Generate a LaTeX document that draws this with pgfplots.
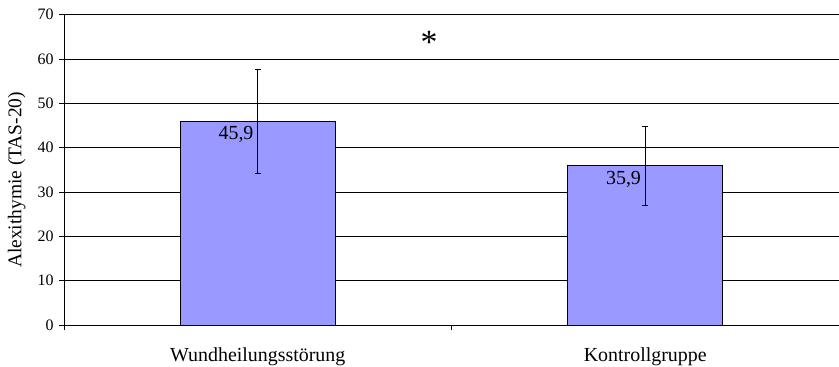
\documentclass[border=0pt]{standalone}
\usepackage{pgfplots}
\pgfplotsset{compat=1.18}
\usepackage{fontspec}
\setmainfont{Liberation Serif}
\definecolor{barfill}{HTML}{9999FF}
\begin{document}
\begin{tikzpicture}
\useasboundingbox (-64bp,-42bp) rectangle (775bp,325bp);
\begin{axis}[
  scale only axis,
  width=775bp, height=310.5bp,
  xmin=-0.5, xmax=1.5,
  ymin=0, ymax=70,
  axis x line*=bottom, axis y line*=left,
  axis line style={black, line width=0.7pt},
  ytick={0,10,...,70},
  ymajorgrids,
  grid style={black, line width=0.6pt},
  xtick={-0.5,0.5,1.5}, xticklabels={},
  tick align=outside,
  major tick length=5bp,
  tick style={black, line width=0.7pt},
  /pgf/number format/assume math mode=true,
  y tick label style={font=\fontsize{16}{18}\selectfont, xshift=-2bp},
  extra x ticks={0,1},
  extra x tick labels={Wundheilungsstörung, Kontrollgruppe},
  extra x tick style={tick style={draw=none}, grid=none,
    tick label style={font=\fontsize{20}{22}\selectfont, yshift=-14bp}},
  ylabel={Alexithymie (TAS-20)},
  ylabel style={font=\fontsize{19.5}{22}\selectfont, at={(axis description cs:-0.061,0.467)}, anchor=center},
  clip=false,
]
\addplot[ybar, bar width=0.4, fill=barfill, draw=black, line width=0.6pt,
  nodes near coords={\pgfmathprintnumber[fixed, fixed zerofill, precision=1, use comma]{\pgfplotspointmeta}},
  every node near coord/.append style={anchor=north east, inner sep=0pt, xshift=-4bp, yshift=-5bp, font=\fontsize{20}{22}\selectfont, black},
  error bars/.cd, y dir=both, y explicit,
  error bar style={black, line width=0.6pt},
  error mark options={rotate=90, mark size=3bp, black, line width=0.6pt}]
  coordinates {(0,45.9) +- (0,11.8) (1,35.9) +- (0,9.0)};
\node[font=\fontsize{34}{36}\selectfont, inner sep=0pt] at (axis cs:0.442,63.6) {*};
\end{axis}
\end{tikzpicture}
\end{document}
